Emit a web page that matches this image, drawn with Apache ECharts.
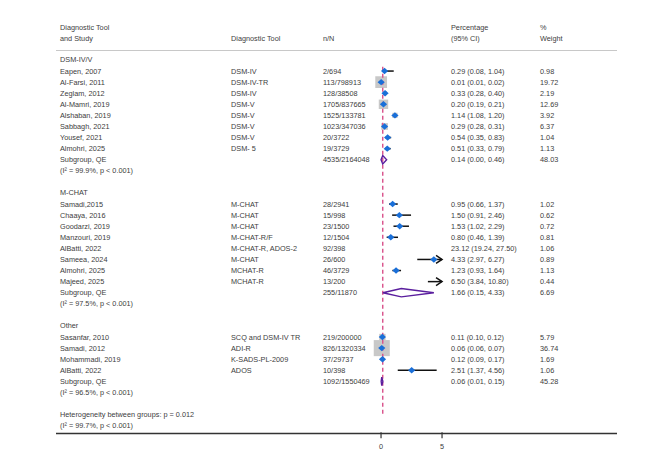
<!DOCTYPE html>
<html>
<head>
<meta charset="utf-8">
<script src="https://cdn.jsdelivr.net/npm/echarts@6/dist/echarts.min.js"></script>
<style>
  html, body { margin: 0; padding: 0; background: #fff; }
  #chart { width: 669px; height: 473px; }
</style>
</head>
<body>
<div id="chart"></div>
<script>
// rows of the forest plot, top to bottom
var rowStudy = [
    'DSM-IV/V', 'Eapen, 2007', 'Al-Farsi, 2011', 'Zeglam, 2012', 'Al-Mamri, 2019', 'Alshaban, 2019',
    'Sabbagh, 2021', 'Yousef, 2021', 'Almohri, 2025', 'Subgroup, QE', '(I\u00b2 = 99.9%, p < 0.001)', '',
    'M-CHAT', 'Samadi,2015', 'Chaaya, 2016', 'Goodarzi, 2019', 'Manzouri, 2019', 'AlBatti, 2022',
    'Sameea, 2024', 'Almohri, 2025', 'Majeed, 2025', 'Subgroup, QE', '(I\u00b2 = 97.5%, p < 0.001)', '',
    'Other', 'Sasanfar, 2010', 'Samadi, 2012', 'Mohammadi, 2019', 'AlBatti, 2022', 'Subgroup, QE',
    '(I\u00b2 = 96.5%, p < 0.001)', '',
    'Heterogeneity between groups: p = 0.012', '(I\u00b2 = 99.7%, p < 0.001)'
];
var rowTool = [
    '', 'DSM-IV', 'DSM-IV-TR', 'DSM-IV', 'DSM-V', 'DSM-V', 'DSM-V', 'DSM-V', 'DSM- 5', '', '', '',
    '', 'M-CHAT', 'M-CHAT', 'M-CHAT', 'M-CHAT-R/F', 'M-CHAT-R, ADOS-2', 'M-CHAT', 'MCHAT-R', 'MCHAT-R', '', '', '',
    '', 'SCQ and DSM-IV TR', 'ADI-R', 'K-SADS-PL-2009', 'ADOS', '', '', '',
    '', ''
];
var rowCount = [
    '', '2/694', '113/798913', '128/38508', '1705/837665', '1525/133781', '1023/347036', '20/3722', '19/3729', '4535/2164048', '', '',
    '', '28/2941', '15/998', '23/1500', '12/1504', '92/398', '26/600', '46/3729', '13/200', '255/11870', '', '',
    '', '219/200000', '826/1320334', '37/29737', '10/398', '1092/1550469', '', '',
    '', ''
];
var rowEst = [
    null, 0.29, 0.01, 0.33, 0.20, 1.14, 0.29, 0.54, 0.51, 0.14, null, null,
    null, 0.95, 1.50, 1.53, 0.80, 23.12, 4.33, 1.23, 6.50, 1.66, null, null,
    null, 0.11, 0.06, 0.12, 2.51, 0.06, null, null,
    null, null
];
var rowLo = [
    null, 0.08, 0.01, 0.28, 0.19, 1.08, 0.28, 0.35, 0.33, 0.00, null, null,
    null, 0.66, 0.91, 1.02, 0.46, 19.24, 2.97, 0.93, 3.84, 0.15, null, null,
    null, 0.10, 0.06, 0.09, 1.37, 0.01, null, null,
    null, null
];
var rowHi = [
    null, 1.04, 0.02, 0.40, 0.21, 1.20, 0.31, 0.83, 0.79, 0.46, null, null,
    null, 1.37, 2.46, 2.29, 1.39, 27.50, 6.27, 1.64, 10.80, 4.33, null, null,
    null, 0.12, 0.07, 0.17, 4.56, 0.15, null, null,
    null, null
];
var rowWeight = [
    null, 0.98, 19.72, 2.19, 12.69, 3.92, 6.37, 1.04, 1.13, 48.03, null, null,
    null, 1.02, 0.62, 0.72, 0.81, 1.06, 0.89, 1.13, 0.44, 6.69, null, null,
    null, 5.79, 36.74, 1.69, 1.06, 45.28, null, null,
    null, null
];
// 'study' rows get a point estimate, 'pooled' rows a diamond
var rowKind = [
    'group', 'study', 'study', 'study', 'study', 'study', 'study', 'study', 'study', 'pooled', 'note', 'blank',
    'group', 'study', 'study', 'study', 'study', 'study', 'study', 'study', 'study', 'pooled', 'note', 'blank',
    'group', 'study', 'study', 'study', 'study', 'pooled', 'note', 'blank',
    'note', 'note'
];
var overallEst = 0.14;
var axisTicks = [0, 5];

var plotMax = 5;          // CIs past this get an arrow
var refLineRows = [0.6, 32];
var yMin = -0.81, yMax = 33.75;
var tickRow = 33.6;       // ticks hang from just above the bottom edge
var font = '"Liberation Sans", Arial, sans-serif';
var fontSize = 7.3;
var textColor = '#404040';
var colX = { study: 60, tool: 231, count: 323, pct: 451, weight: 540 };

var myChart = echarts.init(document.getElementById('chart'), null, { renderer: 'svg' });

var labelData = rowStudy.map(function(s, i) { return [0, i]; });
var tickData = axisTicks.map(function(v) { return [v, tickRow]; });
var markData = [];
rowEst.forEach(function(v, i) {
    if (v !== null) {
        markData.push([v, i, rowLo[i], rowHi[i], rowWeight[i], rowKind[i] === 'pooled' ? 1 : 0]);
    }
});

function txt(x, y, s) {
    return {
        type: 'text', x: x, y: y,
        style: { text: s, fill: textColor, fontSize: fontSize, fontFamily: font, verticalAlign: 'middle', align: 'left' }
    };
}

function renderLabels(params, api) {
    var i = api.value(1);
    var y = api.coord([0, i])[1];
    var kids = [txt(colX.study, y, rowStudy[i])];
    if (rowTool[i]) kids.push(txt(colX.tool, y, rowTool[i]));
    if (rowCount[i]) kids.push(txt(colX.count, y, rowCount[i]));
    if (rowEst[i] !== null) {
        kids.push(txt(colX.pct, y, rowEst[i].toFixed(2) + ' (' + rowLo[i].toFixed(2) + ', ' + rowHi[i].toFixed(2) + ')'));
        kids.push(txt(colX.weight, y, rowWeight[i].toFixed(2)));
    }
    return { type: 'group', children: kids };
}

function renderWeights(params, api) {
    if (api.value(5) === 1) return;
    var est = api.value(0);
    if (est >= plotMax) return;
    var p = api.coord([est, api.value(1)]);
    var side = 2.65 * Math.sqrt(api.value(4));
    return {
        type: 'rect',
        shape: { x: p[0] - side / 2, y: p[1] - side / 2, width: side, height: side },
        style: { fill: '#c8c8c8' }
    };
}

function renderRef(params, api) {
    var a = api.coord([overallEst, refLineRows[0]]);
    var b = api.coord([overallEst, refLineRows[1]]);
    return {
        type: 'line',
        shape: { x1: a[0], y1: a[1], x2: b[0], y2: b[1] },
        style: { stroke: '#d9508a', lineWidth: 1.4, lineDash: [4, 3] }
    };
}

function renderTick(params, api) {
    var p = api.coord([api.value(0), api.value(1)]);
    return {
        type: 'line',
        shape: { x1: p[0], y1: p[1], x2: p[0], y2: p[1] + 6 },
        style: { stroke: '#333', lineWidth: 1.2 }
    };
}

function renderMarks(params, api) {
    var est = api.value(0), i = api.value(1), lo = api.value(2), hi = api.value(3);
    var pooled = api.value(5) === 1;
    var c = api.coord([est, i]);
    var y = c[1];
    if (pooled) {
        var l = api.coord([lo, i])[0], r = api.coord([hi, i])[0];
        return {
            type: 'polygon',
            shape: { points: [[l, y], [c[0], y - 4.2], [r, y], [c[0], y + 4.2]] },
            style: { fill: 'none', stroke: '#5a1e9e', lineWidth: 1.4 }
        };
    }
    if (lo >= plotMax) return;
    var kids = [];
    var x1 = api.coord([lo, i])[0];
    var x2 = api.coord([Math.min(hi, plotMax), i])[0];
    kids.push({
        type: 'line',
        shape: { x1: x1, y1: y, x2: x2, y2: y },
        style: { stroke: '#111', lineWidth: 1.5 }
    });
    if (hi > plotMax) {
        kids.push({
            type: 'polyline',
            shape: { points: [[x2 - 6, y - 4], [x2, y], [x2 - 6, y + 4]] },
            style: { stroke: '#111', lineWidth: 1.5, fill: 'none' }
        });
    }
    if (est < plotMax) {
        kids.push({
            type: 'polygon',
            shape: { points: [[c[0] - 3.6, y], [c[0], y - 3.2], [c[0] + 3.6, y], [c[0], y + 3.2]] },
            style: { fill: '#1a6fd8' }
        });
    }
    return { type: 'group', children: kids };
}

var option = {
    animation: false,
    backgroundColor: '#fff',
    grid: { left: 56, right: 52, top: 51, bottom: 39 },
    xAxis: {
        type: 'value',
        min: -26.64,
        max: 19.34,
        splitLine: { show: false },
        axisLine: { show: false },
        axisTick: { show: false },
        axisLabel: { customValues: axisTicks, color: textColor, fontSize: fontSize, fontFamily: font, margin: 9 }
    },
    yAxis: {
        type: 'value',
        inverse: true,
        min: yMin,
        max: yMax,
        show: false
    },
    graphic: [
        { type: 'line', shape: { x1: 56, y1: 50.5, x2: 617, y2: 50.5 }, style: { stroke: '#c8c8c8', lineWidth: 1.2 } },
        { type: 'line', shape: { x1: 56, y1: 433.5, x2: 617, y2: 433.5 }, style: { stroke: '#333', lineWidth: 1.3 } },
        txt(colX.study, 27, 'Diagnostic Tool'),
        txt(colX.study, 38, 'and Study'),
        txt(colX.tool, 38, 'Diagnostic Tool'),
        txt(colX.count, 38, 'n/N'),
        txt(colX.pct, 27, 'Percentage'),
        txt(colX.pct, 38, '(95% CI)'),
        txt(colX.weight, 27, '%'),
        txt(colX.weight, 38, 'Weight')
    ],
    series: [
        { name: 'labels', type: 'custom', renderItem: renderLabels, data: labelData, encode: { x: 0, y: 1 }, z: 1, clip: false, silent: true },
        { name: 'ticks', type: 'custom', renderItem: renderTick, data: tickData, encode: { x: 0, y: 1 }, z: 1, clip: false, silent: true },
        { name: 'weights', type: 'custom', renderItem: renderWeights, data: markData, encode: { x: 0, y: 1 }, z: 2, clip: false, silent: true },
        { name: 'reference', type: 'custom', renderItem: renderRef, data: [[overallEst, 0]], encode: { x: 0, y: 1 }, z: 3, clip: false, silent: true },
        { name: 'estimates', type: 'custom', renderItem: renderMarks, data: markData, encode: { x: 0, y: 1 }, z: 4, clip: false, silent: true }
    ]
};

myChart.setOption(option);
</script>
</body>
</html>
